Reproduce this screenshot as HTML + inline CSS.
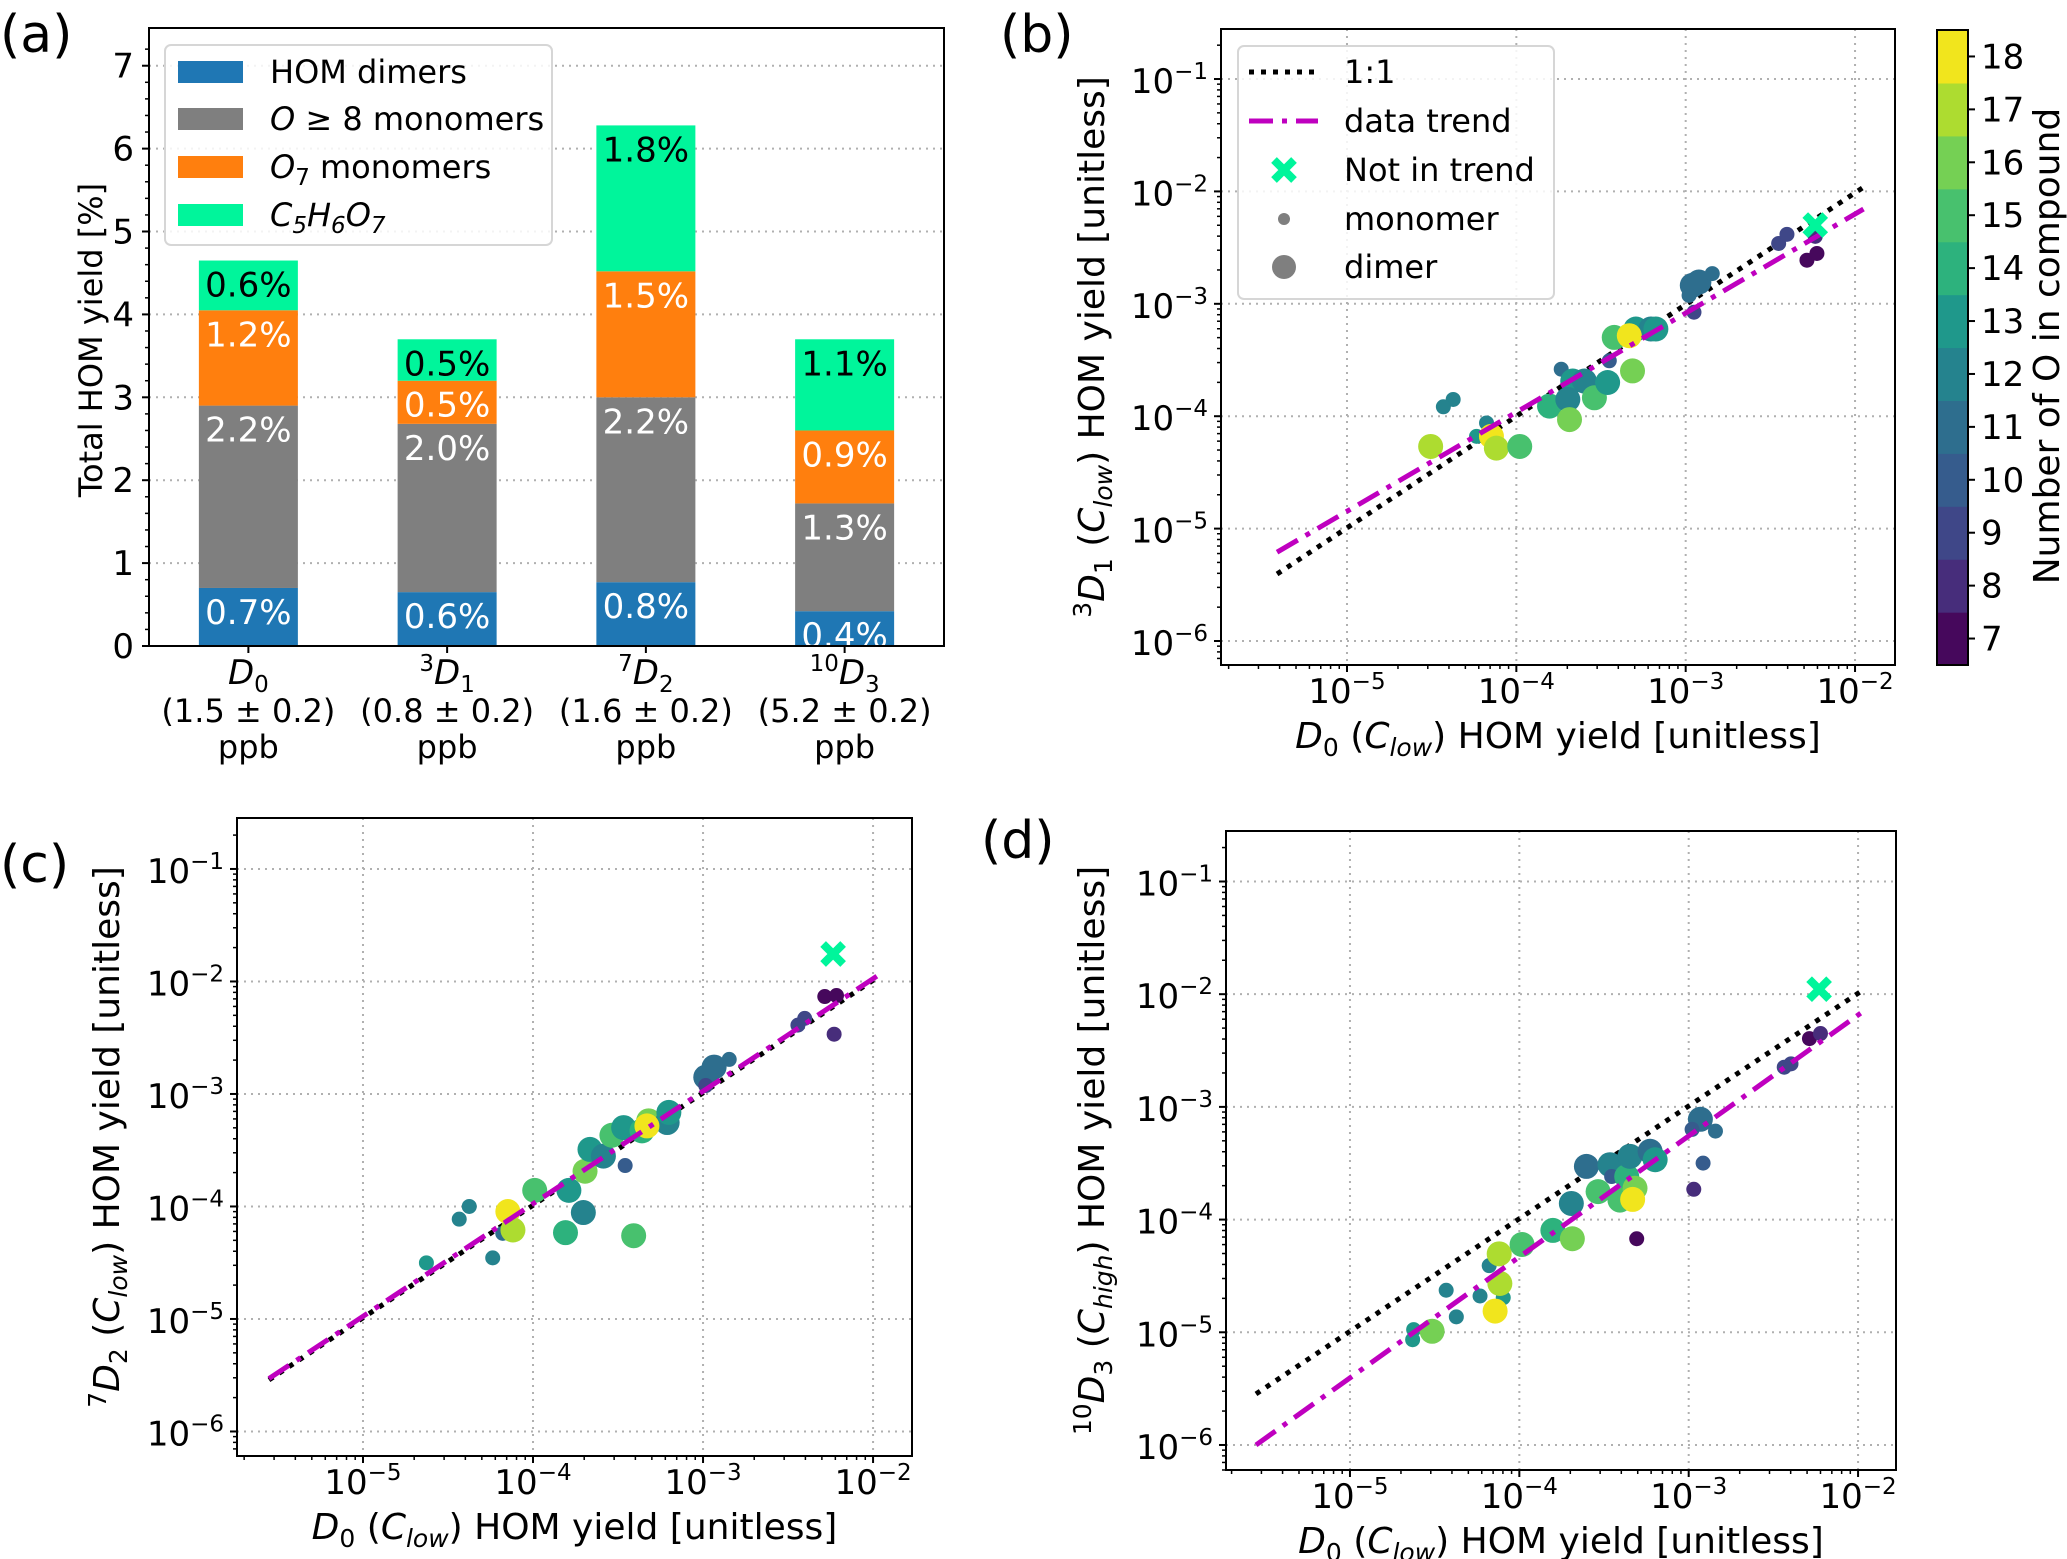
<!DOCTYPE html>
<html><head><meta charset="utf-8">
<style>
html,body{margin:0;padding:0;background:#fff;}
svg{display:block;font-family:"DejaVu Sans","Liberation Sans",sans-serif;}
</style></head>
<body>
<svg id="fig" xmlns="http://www.w3.org/2000/svg" width="2067" height="1559" viewBox="0 0 2067 1559">
<rect x="0" y="0" width="2067" height="1559" fill="#fff"/>
</svg>
<script>
// ---------- Panel (a) data ----------
const barCategories = ["D0","3D1","7D2","10D3"];
const barConc = ["(1.5 \u00b1 0.2)","(0.8 \u00b1 0.2)","(1.6 \u00b1 0.2)","(5.2 \u00b1 0.2)"];
const dimerVals = [0.7, 0.65, 0.77, 0.42];
const o8Vals = [2.2, 2.03, 2.23, 1.3];
const o7Vals = [1.15, 0.52, 1.52, 0.88];
const c5Vals = [0.6, 0.5, 1.76, 1.1];
const dimerLabels = ["0.7%","0.6%","0.8%","0.4%"];
const o8Labels = ["2.2%","2.0%","2.2%","1.3%"];
const o7Labels = ["1.2%","0.5%","1.5%","0.9%"];
const c5Labels = ["0.6%","0.5%","1.8%","1.1%"];
const barYTicks = [0,1,2,3,4,5,6,7];

// ---------- Panel (b) data (log10 values) ----------
const bLogX = [-4.373,-4.431,-4.506,-4.176,-4.235,-4.147,-4.118,-3.98,-3.735,-3.667,-3.598,-3.804,-3.696,-3.686,-3.539,-3.461,-3.314,-3.451,-3.422,-3.294,-3.206,-3.176,-3.333,-2.961,-2.922,-2.843,-2.98,-2.951,-2.451,-2.402,-2.284,-2.225,-2.235];
const bLogY = [-3.851,-3.916,-4.269,-4.06,-4.179,-4.179,-4.284,-4.269,-3.582,-3.687,-3.687,-3.91,-3.851,-4.03,-3.836,-3.70,-3.597,-3.507,-3.299,-3.224,-3.224,-3.224,-3.284,-2.836,-2.806,-2.731,-2.925,-3.075,-2.463,-2.382,-2.612,-2.552,-2.40];
const bO = [12,12,17,12,13,18,17,15,11,13,12,14,12,16,15,13,16,10,15,13,12,13,18,11,11,11,11,9,9,9,7,7,8];
const bDimer = [0,0,1,0,0,1,1,1,0,1,1,1,1,1,1,1,1,0,1,1,1,1,1,1,1,0,0,0,0,0,0,0,0];
const bOutX = [-2.235], bOutY = [-2.299];
const bOneX = [-5.413,-1.93], bOneY = [-5.404,-1.943];
const bTrendX = [-5.413,-1.95], bTrendY = [-5.21,-2.157];

// ---------- Panel (c) data ----------
const cLogX = [-4.627,-4.237,-4.434,-4.375,-4.178,-4.148,-4.118,-3.99,-3.789,-3.809,-3.704,-3.408,-3.694,-3.665,-3.586,-3.458,-3.536,-3.467,-3.32,-3.359,-3.211,-3.201,-3.33,-2.935,-2.984,-2.846,-2.984,-2.442,-2.402,-2.284,-2.215,-2.229];
const cLogY = [-4.501,-4.457,-4.113,-4.0,-4.239,-4.045,-4.209,-3.857,-3.857,-4.233,-4.054,-4.26,-3.687,-3.493,-3.552,-3.636,-3.367,-3.299,-3.239,-3.328,-3.254,-3.164,-3.284,-2.761,-2.851,-2.693,-2.925,-2.388,-2.328,-2.134,-2.125,-2.469];
const cO = [13,12,12,12,11,18,17,15,13,14,12,15,16,13,12,10,15,13,16,14,12,13,18,11,11,11,9,9,9,7,7,8];
const cDimer = [0,0,0,0,0,1,1,1,1,1,1,1,1,1,1,0,1,1,1,1,1,1,1,1,1,0,0,0,0,0,0,0];
const cOutX = [-2.235], cOutY = [-1.756];
const cOneX = [-5.553,-1.965], cOneY = [-5.542,-1.955];
const cTrendX = [-5.553,-1.965], cTrendY = [-5.53,-1.94];

// ---------- Panel (d) data ----------
const dLogX = [-4.624,-4.63,-4.515,-4.372,-4.432,-4.232,-4.095,-4.178,-4.119,-4.115,-4.143,-3.984,-3.802,-3.687,-3.307,-3.693,-3.604,-3.465,-3.455,-3.535,-3.406,-3.366,-3.317,-3.331,-3.347,-3.228,-3.198,-2.931,-2.842,-2.98,-2.915,-2.97,-2.436,-2.396,-2.287,-2.222];
const dLogY = [-4.976,-5.066,-4.991,-4.863,-4.627,-4.678,-4.693,-4.409,-4.304,-4.567,-4.812,-4.221,-4.096,-4.17,-4.17,-3.857,-3.528,-3.513,-3.618,-3.752,-3.827,-3.618,-3.722,-3.821,-3.439,-3.394,-3.469,-3.11,-3.215,-3.2,-3.499,-3.731,-2.648,-2.618,-2.394,-2.349];
const dO = [13,13,16,12,12,12,13,12,17,17,18,15,14,16,7,12,11,12,10,15,15,14,16,18,12,11,13,11,11,10,10,8,9,9,7,8];
const dDimer = [0,0,1,0,0,0,0,0,1,1,1,1,1,1,0,1,1,1,0,1,1,1,1,1,1,1,1,1,0,0,0,0,0,0,0,0];
const dOutX = [-2.23], dOutY = [-1.956];
const dOneX = [-5.555,-1.958], dOneY = [-5.547,-1.95];
const dTrendX = [-5.555,-1.958], dTrendY = [-6.0,-2.14];

const cbTicks = [7,8,9,10,11,12,13,14,15,16,17,18];
const logTicks = [-6,-5,-4,-3,-2,-1];
const logXTicks = [-5,-4,-3,-2];

const viridis = {7:"#46085c",8:"#472d7b",9:"#3f4788",10:"#365c8d",11:"#2e6e8e",12:"#25838e",13:"#1f988b",14:"#2db27d",15:"#48c16e",16:"#75d054",17:"#addc30",18:"#f1e51d"};

const NS = "http://www.w3.org/2000/svg";
const svg = document.getElementById("fig");
function mk(tag, attrs, parent){
  const e = document.createElementNS(NS, tag);
  for (const k in attrs) e.setAttribute(k, attrs[k]);
  (parent||svg).appendChild(e);
  return e;
}
function tsp(parent, txt, opts){
  const t = document.createElementNS(NS,"tspan");
  if (opts) for (const k in opts) t.setAttribute(k, opts[k]);
  t.textContent = txt; parent.appendChild(t); return t;
}
const FS = 34;   // tick labels
const FT = 32;   // legend
const FA = 36;   // axis titles
const SUB = 23;

// ================= Panel (a) =================
(function(){
  const L=149,R=944,T=28,B=646;
  const g = mk("g",{});
  
  
  const yv = v => B - v*(B-T)/7.455;
  const band = (R-L)/barCategories.length;
  const cx = i => L + (i+0.5)*band;
  const bw = 99;
  barYTicks.forEach(v=>{
    if(v>0){ const gl = mk("line",{x1:L,x2:R,y1:yv(v),y2:yv(v),stroke:"#b0b0b0","stroke-width":2,"stroke-dasharray":"2 5"},g);
        }
  });
  const clip = mk("clipPath",{id:"clipA"},g); mk("rect",{x:L,y:T,width:R-L,height:B-T},clip);
  const series = [[dimerVals,"#1f77b4",dimerLabels,"#fff","dimer"],[o8Vals,"#7f7f7f",o8Labels,"#fff","o8"],[o7Vals,"#ff7f0e",o7Labels,"#fff","o7"],[c5Vals,"#00f59b",c5Labels,"#000","c5h6o7"]];
  const bars = mk("g",{"clip-path":"url(#clipA)"},g);
  barCategories.forEach((c,i)=>{
    let base = 0;
    series.forEach(s=>{
      const v = s[0][i];
      const r = mk("rect",{x:cx(i)-bw/2,y:yv(base+v),width:bw,height:yv(base)-yv(base+v),fill:s[1]},bars);
      
      
      const t = mk("text",{x:cx(i),y:yv(base+v)+36,"text-anchor":"middle","font-size":FS,fill:s[3]},bars);
      t.textContent = s[2][i];
      
      
      base += v;
    });
  });
  mk("rect",{x:L,y:T,width:R-L,height:B-T,fill:"none",stroke:"#000","stroke-width":2},g);
  barYTicks.forEach(v=>{
    mk("line",{x1:L-7,x2:L,y1:yv(v),y2:yv(v),stroke:"#000","stroke-width":2},g);
    const t = mk("text",{x:L-15,y:yv(v)+12,"text-anchor":"end","font-size":FS},g);
    t.textContent = v;
    
    
  });
  for(let v=0.2; v<7.4; v+=0.2){ if(Math.abs(v-Math.round(v))>0.01) mk("line",{x1:L-4,x2:L,y1:yv(v),y2:yv(v),stroke:"#000","stroke-width":1.5},g); }
  const subs = [["","D","0"],["3","D","1"],["7","D","2"],["10","D","3"]];
  barCategories.forEach((c,i)=>{
    mk("line",{x1:cx(i),x2:cx(i),y1:B,y2:B+7,stroke:"#000","stroke-width":2},g);
    const t = mk("text",{x:cx(i),y:B+38,"text-anchor":"middle","font-size":FS},g);
    if(subs[i][0]) tsp(t,subs[i][0],{"font-size":SUB,dy:-13});
    tsp(t,subs[i][1],{"font-style":"italic",dy:subs[i][0]?13:0});
    tsp(t,subs[i][2],{"font-size":SUB,dy:8});
    
    
    const t2 = mk("text",{x:cx(i),y:B+76,"text-anchor":"middle","font-size":32},g); t2.textContent = barConc[i];
     
    const t3 = mk("text",{x:cx(i),y:B+112,"text-anchor":"middle","font-size":32},g); t3.textContent = "ppb";
     
  });
  const yl = mk("text",{x:0,y:0,"text-anchor":"middle","font-size":FT,transform:"translate(102,340) rotate(-90)"},g);
  yl.textContent = "Total HOM yield [%]";
   
  const lg = mk("g",{},g);
   
  mk("rect",{x:165,y:45,width:387,height:200,rx:6,fill:"#fff","fill-opacity":0.85,stroke:"#d6d6d6","stroke-width":2},lg);
  const ly = [72,119,167,215];
  const cols = ["#1f77b4","#7f7f7f","#ff7f0e","#00f59b"];
  cols.forEach((c,k)=>{
    const r = mk("rect",{x:178,y:ly[k]-11,width:65,height:22,fill:c},lg);
     
  });
  let t;
  t = mk("text",{x:270,y:ly[0]+11,"font-size":FT},lg); t.textContent="HOM dimers";
   
  t = mk("text",{x:270,y:ly[1]+11,"font-size":FT},lg); tsp(t,"O",{"font-style":"italic"}); tsp(t," \u2265 8 monomers");
   
  t = mk("text",{x:270,y:ly[2]+11,"font-size":FT},lg); tsp(t,"O",{"font-style":"italic"}); tsp(t,"7",{"font-size":SUB,dy:7}); tsp(t," monomers",{dy:-7});
   
  t = mk("text",{x:270,y:ly[3]+11,"font-size":FT,"font-style":"italic"},lg); tsp(t,"C"); tsp(t,"5",{"font-size":SUB,dy:7}); tsp(t,"H",{dy:-7}); tsp(t,"6",{"font-size":SUB,dy:7}); tsp(t,"O",{dy:-7}); tsp(t,"7",{"font-size":SUB,dy:7});
   
})();

// ================= Scatter panel builder =================
function scatterPanel(p){
  const g = mk("g",{});
  
  
  const {L,R,T,B,x0,x1,y0,y1} = p;
  const sx = v => L + (v-x0)/(x1-x0)*(R-L);
  const sy = v => B - (v-y0)/(y1-y0)*(B-T);
  const cid = "clip"+p.id;
  const clip = mk("clipPath",{id:cid},g); mk("rect",{x:L,y:T,width:R-L,height:B-T},clip);
  logXTicks.forEach(v=>{ const l=mk("line",{x1:sx(v),x2:sx(v),y1:T,y2:B,stroke:"#b0b0b0","stroke-width":2,"stroke-dasharray":"2 5"},g);
      });
  logTicks.forEach(v=>{ const l=mk("line",{x1:L,x2:R,y1:sy(v),y2:sy(v),stroke:"#b0b0b0","stroke-width":2,"stroke-dasharray":"2 5"},g);
      });
  const inner = mk("g",{"clip-path":"url(#"+cid+")"},g);
  const one = mk("line",{x1:sx(p.oneX[0]),y1:sy(p.oneY[0]),x2:sx(p.oneX[1]),y2:sy(p.oneY[1]),stroke:"#000","stroke-width":5,"stroke-dasharray":"5 7"},inner);
   
  p.xs.forEach((xv,i)=>{
    const c = mk("circle",{cx:sx(xv),cy:sy(p.ys[i]),r:p.dim[i]?12.5:7.5,fill:viridis[p.os[i]]},inner);
    
    
  });
  const tr = mk("line",{x1:sx(p.trX[0]),y1:sy(p.trY[0]),x2:sx(p.trX[1]),y2:sy(p.trY[1]),stroke:"#bf00bf","stroke-width":5,"stroke-dasharray":"24 9 5 9"},inner);
   
  p.outX.forEach((xv,i)=>{
    const x=sx(xv), y=sy(p.outY[i]);
    const m = mk("path",{d:`M${x-10},${y-10}L${x+10},${y+10}M${x+10},${y-10}L${x-10},${y+10}`,stroke:"#00f59b","stroke-width":8,"stroke-linecap":"butt"},inner);
     
  });
  mk("rect",{x:L,y:T,width:R-L,height:B-T,fill:"none",stroke:"#000","stroke-width":2},g);
  for(let d=Math.floor(x0); d<x1; d++){
    for(let k=1;k<10;k++){ const v=d+Math.log10(k); if(v<x0||v>x1) continue;
      mk("line",{x1:sx(v),x2:sx(v),y1:B,y2:B+(k==1?7:4),stroke:"#000","stroke-width":k==1?2:1.5},g); }
  }
  for(let d=Math.floor(y0); d<y1; d++){
    for(let k=1;k<10;k++){ const v=d+Math.log10(k); if(v<y0||v>y1) continue;
      mk("line",{x1:L-(k==1?7:4),x2:L,y1:sy(v),y2:sy(v),stroke:"#000","stroke-width":k==1?2:1.5},g); }
  }
  logXTicks.forEach(v=>{
    const t = mk("text",{x:sx(v),y:B+38,"text-anchor":"middle","font-size":FS},g);
    tsp(t,"10"); tsp(t,"\u2212"+(-v),{"font-size":SUB,dy:-14});
     
  });
  logTicks.forEach(v=>{
    const t = mk("text",{x:L-13,y:sy(v)+14,"text-anchor":"end","font-size":FS},g);
    tsp(t,"10"); tsp(t,"\u2212"+(-v),{"font-size":SUB,dy:-14});
     
  });
  const xl = mk("text",{x:(L+R)/2,y:B+83,"text-anchor":"middle","font-size":FA},g);
  tsp(xl,"D",{"font-style":"italic"}); tsp(xl,"0",{"font-size":25,dy:8}); tsp(xl," (",{dy:-8}); tsp(xl,"C",{"font-style":"italic"}); tsp(xl,"low",{"font-size":25,dy:8,"font-style":"italic"}); tsp(xl,") HOM yield [unitless]",{dy:-8});
   
  const yl = mk("text",{x:0,y:0,"text-anchor":"middle","font-size":FA,transform:`translate(${p.ylx},${(T+B)/2}) rotate(-90)`},g);
  tsp(yl,p.ysup,{"font-size":25,dy:-13}); tsp(yl,"D",{"font-style":"italic",dy:13}); tsp(yl,p.ysub,{"font-size":25,dy:8}); tsp(yl," (",{dy:-8}); tsp(yl,"C",{"font-style":"italic"}); tsp(yl,p.yc,{"font-size":25,dy:8,"font-style":"italic"}); tsp(yl,") HOM yield [unitless]",{dy:-8});
   
  return {g,sx,sy};
}

scatterPanel({id:"B",name:"panel-b-scatter",L:1221,R:1895,T:29,B:665,x0:-5.744,x1:-1.764,y0:-6.2135,y1:-0.555,
  xs:bLogX,ys:bLogY,os:bO,dim:bDimer,outX:bOutX,outY:bOutY,oneX:bOneX,oneY:bOneY,trX:bTrendX,trY:bTrendY,ylx:1104,ysup:"3",ysub:"1",yc:"low"});
scatterPanel({id:"C",name:"panel-c-scatter",L:237,R:912,T:818,B:1456,x0:-5.741,x1:-1.771,y0:-6.218,y1:-0.547,
  xs:cLogX,ys:cLogY,os:cO,dim:cDimer,outX:cOutX,outY:cOutY,oneX:cOneX,oneY:cOneY,trX:cTrendX,trY:cTrendY,ylx:119,ysup:"7",ysub:"2",yc:"low"});
scatterPanel({id:"D",name:"panel-d-scatter",L:1226,R:1896,T:831,B:1470,x0:-5.732,x1:-1.776,y0:-6.222,y1:-0.552,
  xs:dLogX,ys:dLogY,os:dO,dim:dDimer,outX:dOutX,outY:dOutY,oneX:dOneX,oneY:dOneY,trX:dTrendX,trY:dTrendY,ylx:1104,ysup:"10",ysub:"3",yc:"high"});

// legend panel b
(function(){
  const lg = mk("g",{});
   
  mk("rect",{x:1238,y:46,width:316,height:253,rx:6,fill:"#fff","fill-opacity":0.85,stroke:"#d6d6d6","stroke-width":2},lg);
  const ly=[72,121,170,219,267];
  mk("line",{x1:1249,x2:1318,y1:ly[0],y2:ly[0],stroke:"#000","stroke-width":5,"stroke-dasharray":"5 7"},lg);
  mk("line",{x1:1249,x2:1318,y1:ly[1],y2:ly[1],stroke:"#bf00bf","stroke-width":5,"stroke-dasharray":"24 9 5 9"},lg);
  mk("path",{d:`M1274,${ly[2]-10}L1294,${ly[2]+10}M1294,${ly[2]-10}L1274,${ly[2]+10}`,stroke:"#00f59b","stroke-width":8},lg);
  mk("circle",{cx:1284,cy:ly[3],r:6,fill:"#7f7f7f"},lg);
  mk("circle",{cx:1284,cy:ly[4],r:12,fill:"#7f7f7f"},lg);
  const labs=["1:1","data trend","Not in trend","monomer","dimer"];
  labs.forEach((s,k)=>{ const t=mk("text",{x:1344,y:ly[k]+11,"font-size":FT},lg); t.textContent=s;
      });
})();

// colorbar
(function(){
  const g = mk("g",{});
   
  const X=1937,W=31,T=30,B=665, n=cbTicks.length, h=(B-T)/n;
  cbTicks.forEach((o,k)=>{
    const y = B-(k+1)*h;
    const r = mk("rect",{x:X,y:y,width:W,height:h+0.6,fill:viridis[o]},g);
     
    mk("line",{x1:X+W,x2:X+W+7,y1:y+h/2,y2:y+h/2,stroke:"#000","stroke-width":2},g);
    const t = mk("text",{x:X+W+13,y:y+h/2+12,"font-size":FS},g); t.textContent=o;
     
  });
  mk("rect",{x:X,y:T,width:W,height:B-T,fill:"none",stroke:"#000","stroke-width":2},g);
  const t = mk("text",{x:0,y:0,"text-anchor":"middle","font-size":FA,transform:"translate(2059,346) rotate(-90)"},g);
  t.textContent="Number of O in compound";
   
})();

// panel letters
[["(a)",0,52],["(b)",1000,52],["(c)",0,882],["(d)",981,858]].forEach(a=>{
  const t = mk("text",{x:a[1],y:a[2],"font-size":52},svg); t.textContent=a[0];
   
});
</script>
</body></html>
